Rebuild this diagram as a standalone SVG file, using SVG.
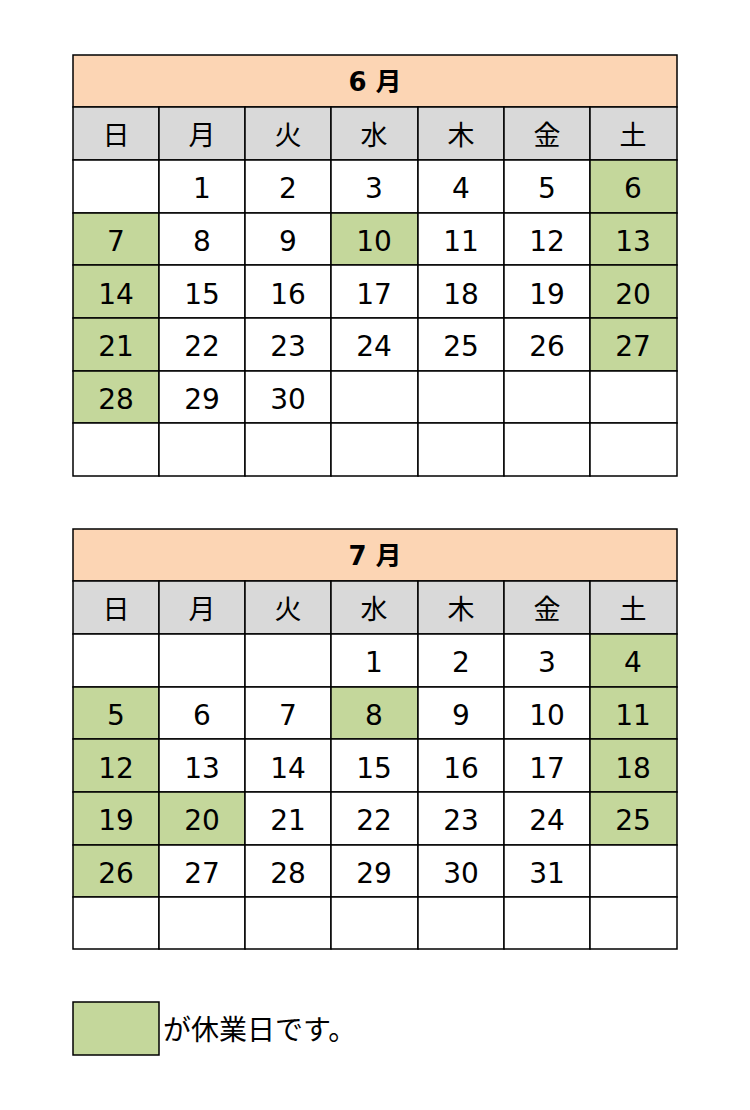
<svg xmlns="http://www.w3.org/2000/svg" width="750" height="1110" viewBox="0 0 750 1110">
<style>
rect{stroke:#000;stroke-width:1.5}
.w{fill:#fff}.g{fill:#C4D79B}.h{fill:#FCD5B4}.d{fill:#D9D9D9}
text{font-family:"DejaVu Sans","Noto Sans CJK JP",sans-serif;font-size:28px;text-anchor:middle;fill:#000}
.t{font-weight:bold;font-size:26px}
.k{font-size:27px}
.l{font-size:28px;text-anchor:start}
</style>
<rect width="750" height="1110" fill="#fff" style="stroke:none"/>
<g id="june" transform="translate(0,2)">
<rect class="h" x="73" y="53" width="604" height="52"/>
<text class="t" x="375" y="89">6 月</text>
<g id="june-head">
<rect class="d" x="73" y="105" width="86" height="53"/><rect class="d" x="159" y="105" width="86" height="53"/><rect class="d" x="245" y="105" width="86" height="53"/><rect class="d" x="331" y="105" width="87" height="53"/><rect class="d" x="418" y="105" width="86" height="53"/><rect class="d" x="504" y="105" width="86" height="53"/><rect class="d" x="590" y="105" width="87" height="53"/>
<text class="k" x="116" y="143">日</text><text class="k" x="202" y="143">月</text><text class="k" x="288" y="143">火</text><text class="k" x="374" y="143">水</text><text class="k" x="461" y="143">木</text><text class="k" x="547" y="143">金</text><text class="k" x="633" y="143">土</text>
</g>
<g id="june-days">
<rect class="w" x="73" y="158" width="86" height="53"/><rect class="w" x="159" y="158" width="86" height="53"/><rect class="w" x="245" y="158" width="86" height="53"/><rect class="w" x="331" y="158" width="87" height="53"/><rect class="w" x="418" y="158" width="86" height="53"/><rect class="w" x="504" y="158" width="86" height="53"/><rect class="g" x="590" y="158" width="87" height="53"/>
<rect class="g" x="73" y="211" width="86" height="52"/><rect class="w" x="159" y="211" width="86" height="52"/><rect class="w" x="245" y="211" width="86" height="52"/><rect class="g" x="331" y="211" width="87" height="52"/><rect class="w" x="418" y="211" width="86" height="52"/><rect class="w" x="504" y="211" width="86" height="52"/><rect class="g" x="590" y="211" width="87" height="52"/>
<rect class="g" x="73" y="263" width="86" height="53"/><rect class="w" x="159" y="263" width="86" height="53"/><rect class="w" x="245" y="263" width="86" height="53"/><rect class="w" x="331" y="263" width="87" height="53"/><rect class="w" x="418" y="263" width="86" height="53"/><rect class="w" x="504" y="263" width="86" height="53"/><rect class="g" x="590" y="263" width="87" height="53"/>
<rect class="g" x="73" y="316" width="86" height="53"/><rect class="w" x="159" y="316" width="86" height="53"/><rect class="w" x="245" y="316" width="86" height="53"/><rect class="w" x="331" y="316" width="87" height="53"/><rect class="w" x="418" y="316" width="86" height="53"/><rect class="w" x="504" y="316" width="86" height="53"/><rect class="g" x="590" y="316" width="87" height="53"/>
<rect class="g" x="73" y="369" width="86" height="52"/><rect class="w" x="159" y="369" width="86" height="52"/><rect class="w" x="245" y="369" width="86" height="52"/><rect class="w" x="331" y="369" width="87" height="52"/><rect class="w" x="418" y="369" width="86" height="52"/><rect class="w" x="504" y="369" width="86" height="52"/><rect class="w" x="590" y="369" width="87" height="52"/>
<rect class="w" x="73" y="421" width="86" height="53"/><rect class="w" x="159" y="421" width="86" height="53"/><rect class="w" x="245" y="421" width="86" height="53"/><rect class="w" x="331" y="421" width="87" height="53"/><rect class="w" x="418" y="421" width="86" height="53"/><rect class="w" x="504" y="421" width="86" height="53"/><rect class="w" x="590" y="421" width="87" height="53"/>
<text x="202" y="196">1</text><text x="288" y="196">2</text><text x="374" y="196">3</text><text x="461" y="196">4</text><text x="547" y="196">5</text><text x="633" y="196">6</text>
<text x="116" y="249">7</text><text x="202" y="249">8</text><text x="288" y="249">9</text><text x="374" y="249">10</text><text x="461" y="249">11</text><text x="547" y="249">12</text><text x="633" y="249">13</text>
<text x="116" y="302">14</text><text x="202" y="302">15</text><text x="288" y="302">16</text><text x="374" y="302">17</text><text x="461" y="302">18</text><text x="547" y="302">19</text><text x="633" y="302">20</text>
<text x="116" y="354">21</text><text x="202" y="354">22</text><text x="288" y="354">23</text><text x="374" y="354">24</text><text x="461" y="354">25</text><text x="547" y="354">26</text><text x="633" y="354">27</text>
<text x="116" y="407">28</text><text x="202" y="407">29</text><text x="288" y="407">30</text>
</g>
</g>
<g id="july">
<rect class="h" x="73" y="529" width="604" height="52"/>
<text class="t" x="375" y="565">7 月</text>
<g id="july-head">
<rect class="d" x="73" y="581" width="86" height="53"/><rect class="d" x="159" y="581" width="86" height="53"/><rect class="d" x="245" y="581" width="86" height="53"/><rect class="d" x="331" y="581" width="87" height="53"/><rect class="d" x="418" y="581" width="86" height="53"/><rect class="d" x="504" y="581" width="86" height="53"/><rect class="d" x="590" y="581" width="87" height="53"/>
<text class="k" x="116" y="619">日</text><text class="k" x="202" y="619">月</text><text class="k" x="288" y="619">火</text><text class="k" x="374" y="619">水</text><text class="k" x="461" y="619">木</text><text class="k" x="547" y="619">金</text><text class="k" x="633" y="619">土</text>
</g>
<g id="july-days">
<rect class="w" x="73" y="634" width="86" height="53"/><rect class="w" x="159" y="634" width="86" height="53"/><rect class="w" x="245" y="634" width="86" height="53"/><rect class="w" x="331" y="634" width="87" height="53"/><rect class="w" x="418" y="634" width="86" height="53"/><rect class="w" x="504" y="634" width="86" height="53"/><rect class="g" x="590" y="634" width="87" height="53"/>
<rect class="g" x="73" y="687" width="86" height="52"/><rect class="w" x="159" y="687" width="86" height="52"/><rect class="w" x="245" y="687" width="86" height="52"/><rect class="g" x="331" y="687" width="87" height="52"/><rect class="w" x="418" y="687" width="86" height="52"/><rect class="w" x="504" y="687" width="86" height="52"/><rect class="g" x="590" y="687" width="87" height="52"/>
<rect class="g" x="73" y="739" width="86" height="53"/><rect class="w" x="159" y="739" width="86" height="53"/><rect class="w" x="245" y="739" width="86" height="53"/><rect class="w" x="331" y="739" width="87" height="53"/><rect class="w" x="418" y="739" width="86" height="53"/><rect class="w" x="504" y="739" width="86" height="53"/><rect class="g" x="590" y="739" width="87" height="53"/>
<rect class="g" x="73" y="792" width="86" height="53"/><rect class="g" x="159" y="792" width="86" height="53"/><rect class="w" x="245" y="792" width="86" height="53"/><rect class="w" x="331" y="792" width="87" height="53"/><rect class="w" x="418" y="792" width="86" height="53"/><rect class="w" x="504" y="792" width="86" height="53"/><rect class="g" x="590" y="792" width="87" height="53"/>
<rect class="g" x="73" y="845" width="86" height="52"/><rect class="w" x="159" y="845" width="86" height="52"/><rect class="w" x="245" y="845" width="86" height="52"/><rect class="w" x="331" y="845" width="87" height="52"/><rect class="w" x="418" y="845" width="86" height="52"/><rect class="w" x="504" y="845" width="86" height="52"/><rect class="w" x="590" y="845" width="87" height="52"/>
<rect class="w" x="73" y="897" width="86" height="52"/><rect class="w" x="159" y="897" width="86" height="52"/><rect class="w" x="245" y="897" width="86" height="52"/><rect class="w" x="331" y="897" width="87" height="52"/><rect class="w" x="418" y="897" width="86" height="52"/><rect class="w" x="504" y="897" width="86" height="52"/><rect class="w" x="590" y="897" width="87" height="52"/>
<text x="374" y="672">1</text><text x="461" y="672">2</text><text x="547" y="672">3</text><text x="633" y="672">4</text>
<text x="116" y="725">5</text><text x="202" y="725">6</text><text x="288" y="725">7</text><text x="374" y="725">8</text><text x="461" y="725">9</text><text x="547" y="725">10</text><text x="633" y="725">11</text>
<text x="116" y="778">12</text><text x="202" y="778">13</text><text x="288" y="778">14</text><text x="374" y="778">15</text><text x="461" y="778">16</text><text x="547" y="778">17</text><text x="633" y="778">18</text>
<text x="116" y="830">19</text><text x="202" y="830">20</text><text x="288" y="830">21</text><text x="374" y="830">22</text><text x="461" y="830">23</text><text x="547" y="830">24</text><text x="633" y="830">25</text>
<text x="116" y="883">26</text><text x="202" y="883">27</text><text x="288" y="883">28</text><text x="374" y="883">29</text><text x="461" y="883">30</text><text x="547" y="883">31</text>
</g>
</g>
<g id="legend">
<rect class="g" x="73" y="1002" width="86" height="53"/>
<text class="l" x="163" y="1040">が休業日です。</text>
</g>
</svg>
